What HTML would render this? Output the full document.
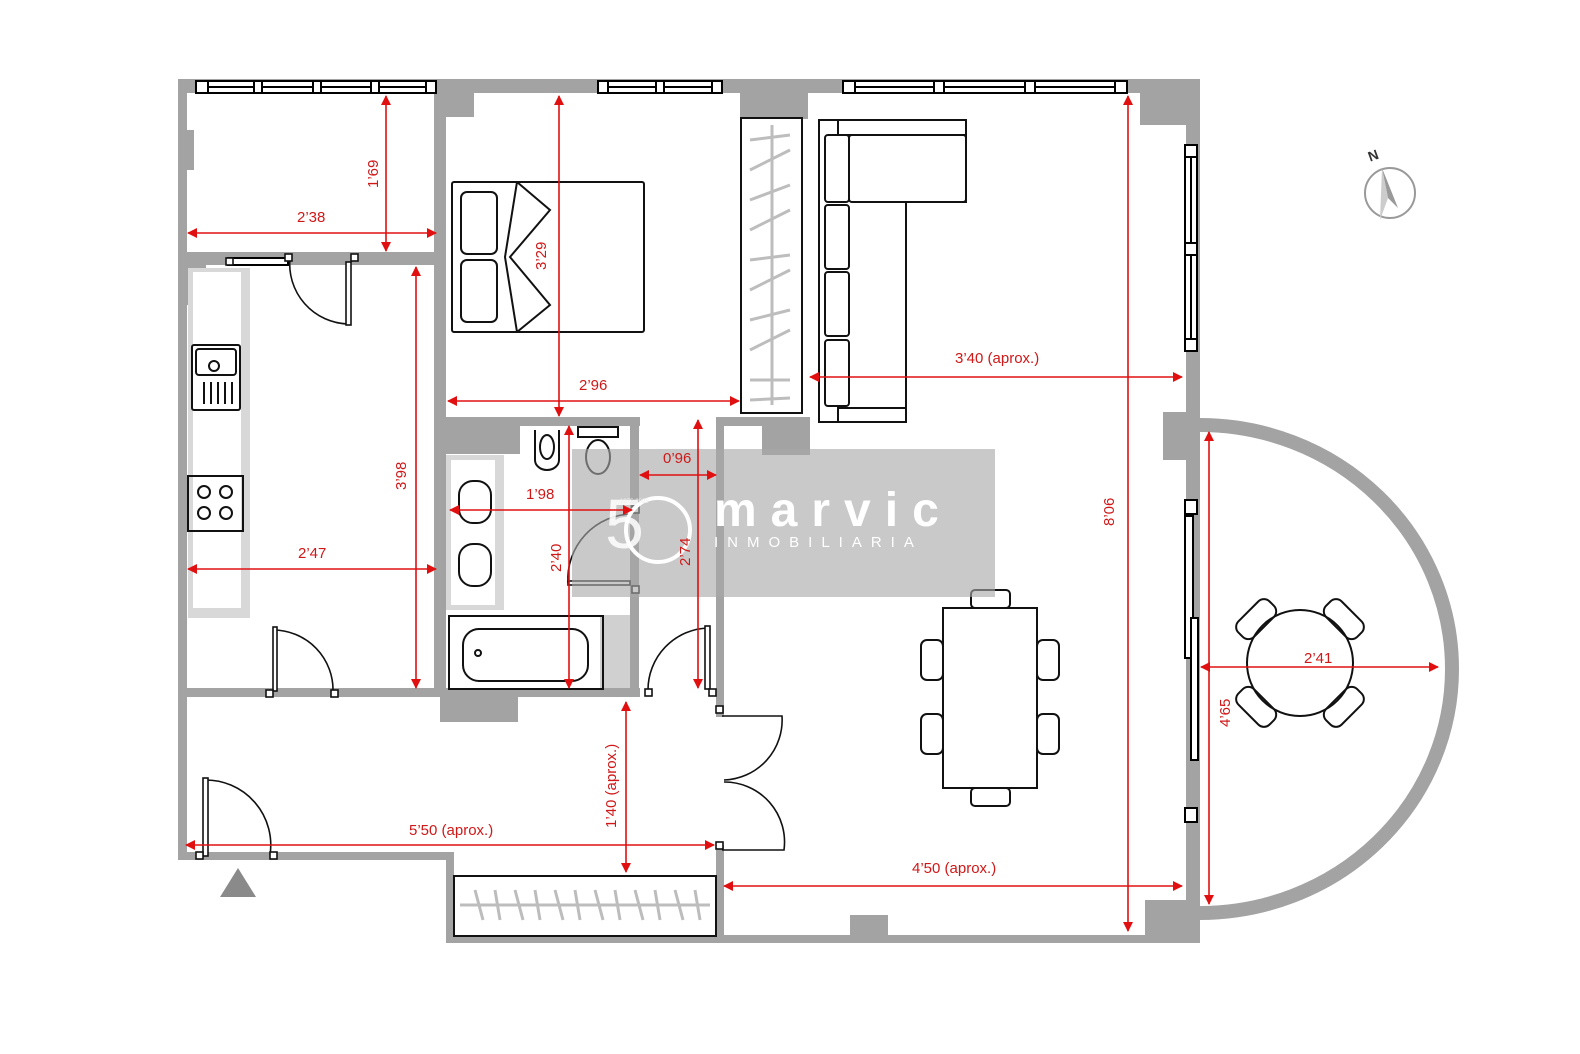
<!DOCTYPE html>
<html><head><meta charset="utf-8"><style>
html,body{margin:0;padding:0;background:#fff;}
svg{display:block;font-family:"Liberation Sans",sans-serif;}
</style></head><body>
<svg width="1580" height="1054" viewBox="0 0 1580 1054" xmlns="http://www.w3.org/2000/svg">
<defs>
<marker id="a" viewBox="0 0 10 10" refX="9" refY="5" markerWidth="10" markerHeight="10" markerUnits="userSpaceOnUse" orient="auto-start-reverse"><path d="M0,0L10,5L0,10z" fill="#e01010"/></marker>
</defs>
<rect width="1580" height="1054" fill="#fff"/>
<g fill="#a3a3a3">
<rect x="178" y="79" width="1022" height="14"/>
<rect x="178" y="79" width="9" height="781"/>
<rect x="178" y="852" width="276" height="8"/>
<rect x="446" y="852" width="8" height="90"/>
<rect x="446" y="935" width="754" height="8"/>
<rect x="1186" y="79" width="14" height="864"/>
<rect x="1140" y="93" width="60" height="32"/>
<rect x="1163" y="412" width="37" height="48"/>
<rect x="1145" y="900" width="55" height="43"/>
<rect x="186" y="130" width="8" height="40"/>
<rect x="436" y="79" width="38" height="38"/>
<rect x="178" y="252" width="262" height="13"/>
<rect x="186" y="265" width="20" height="40"/>
<rect x="434" y="79" width="12" height="618"/>
<rect x="440" y="417" width="200" height="9"/>
<rect x="440" y="426" width="80" height="28"/>
<rect x="630" y="417" width="9" height="280"/>
<rect x="440" y="688" width="200" height="9"/>
<rect x="440" y="695" width="78" height="27"/>
<rect x="178" y="688" width="262" height="9"/>
<rect x="740" y="79" width="68" height="40"/>
<rect x="716" y="417" width="8" height="300"/>
<rect x="716" y="417" width="94" height="9"/>
<rect x="762" y="417" width="48" height="38"/>
<rect x="850" y="915" width="38" height="22"/>
<rect x="716" y="845" width="8" height="97"/>
</g>
<rect x="188" y="268" width="62" height="350" fill="#d8d8d8"/>
<rect x="193" y="272" width="48" height="336" fill="#fff"/>
<rect x="446" y="455" width="58" height="155" fill="#d8d8d8"/>
<rect x="451" y="460" width="44" height="145" fill="#fff"/>
<rect x="600" y="615" width="30" height="73" fill="#d0d0d0"/>
<path d="M1200,425 A252,244 0 0 1 1200,913" fill="none" stroke="#a3a3a3" stroke-width="14"/>
<g fill="#fff" stroke="#000" stroke-width="2">
<rect x="196" y="81" width="240" height="12"/><line x1="196" y1="87" x2="436" y2="87"/>
<rect x="598" y="81" width="124" height="12"/><line x1="598" y1="87" x2="722" y2="87"/>
<rect x="843" y="81" width="284" height="12"/><line x1="843" y1="87" x2="1127" y2="87"/>
<rect x="1185" y="145" width="12" height="206"/><line x1="1191" y1="145" x2="1191" y2="351"/>
<rect x="1185" y="500" width="12" height="14"/><rect x="1185" y="808" width="12" height="14"/>
<rect x="1185" y="516" width="8" height="142"/><rect x="1191" y="618" width="7" height="142"/>
<rect x="228" y="258" width="60" height="7"/>
</g>
<g fill="#fff" stroke="#000" stroke-width="2">
<rect x="196" y="81" width="12" height="12"/><rect x="254" y="81" width="8" height="12"/><rect x="313" y="81" width="8" height="12"/><rect x="371" y="81" width="8" height="12"/><rect x="426" y="81" width="10" height="12"/>
<rect x="598" y="81" width="10" height="12"/><rect x="656" y="81" width="8" height="12"/><rect x="712" y="81" width="10" height="12"/>
<rect x="843" y="81" width="12" height="12"/><rect x="934" y="81" width="10" height="12"/><rect x="1025" y="81" width="10" height="12"/><rect x="1115" y="81" width="12" height="12"/>
<rect x="1185" y="145" width="12" height="12"/><rect x="1185" y="243" width="12" height="12"/><rect x="1185" y="339" width="12" height="12"/>
</g>
<g fill="none" stroke="#111" stroke-width="2">
<rect x="452" y="182" width="192" height="150" rx="2"/>
<rect x="461" y="192" width="36" height="62" rx="6"/><rect x="461" y="260" width="36" height="62" rx="6"/>
<path d="M517,182 L550,210 L510,257 L550,305 L517,332 M517,182 L505,257 L517,332"/>
<rect x="741" y="118" width="61" height="295"/>
<path d="M819,120 H966 V202 H906 V422 H819 Z"/>
<path d="M838,120 V135 H966 M838,422 V408 H906"/>
<rect x="825" y="135" width="24" height="67" rx="3"/><rect x="849" y="135" width="117" height="67" rx="3"/>
<rect x="825" y="205" width="24" height="64" rx="3"/><rect x="825" y="272" width="24" height="64" rx="3"/><rect x="825" y="340" width="24" height="66" rx="3"/>
<rect x="192" y="345" width="48" height="65" rx="2"/><rect x="196" y="349" width="40" height="26" rx="3"/><circle cx="214" cy="366" r="5"/>
<path d="M204,382v22M211,382v22M218,382v22M225,382v22M232,382v22"/>
<rect x="188" y="476" width="55" height="55"/><circle cx="204" cy="492" r="6"/><circle cx="226" cy="492" r="6"/><circle cx="204" cy="513" r="6"/><circle cx="226" cy="513" r="6"/>
<rect x="449" y="616" width="154" height="73"/><rect x="463" y="629" width="125" height="52" rx="16"/><circle cx="478" cy="653" r="3"/>
<rect x="459" y="481" width="32" height="42" rx="14"/><rect x="459" y="544" width="32" height="42" rx="14"/>
<path d="M535,430 v30 a12,10 0 0 0 24,0 v-30"/><ellipse cx="547" cy="447" rx="7" ry="12"/>
<rect x="578" y="427" width="40" height="10"/><ellipse cx="598" cy="457" rx="12" ry="17"/>
<rect x="454" y="876" width="262" height="60"/>
<rect x="943" y="608" width="94" height="180"/>
<rect x="971" y="590" width="39" height="18" rx="4"/><rect x="971" y="788" width="39" height="18" rx="4"/>
<rect x="921" y="640" width="22" height="40" rx="6"/><rect x="921" y="714" width="22" height="40" rx="6"/>
<rect x="1037" y="640" width="22" height="40" rx="6"/><rect x="1037" y="714" width="22" height="40" rx="6"/>
<circle cx="1300" cy="663" r="53"/>
<g transform="translate(1300,663)">
<rect x="-22" y="-73" width="44" height="22" rx="8" transform="rotate(-45)"/><rect x="-22" y="-73" width="44" height="22" rx="8" transform="rotate(45)"/>
<rect x="-22" y="-73" width="44" height="22" rx="8" transform="rotate(135)"/><rect x="-22" y="-73" width="44" height="22" rx="8" transform="rotate(-135)"/>
</g>
</g>
<g stroke="#bdbdbd" stroke-width="3"><line x1="772" y1="125" x2="772" y2="405"/>
<path d="M750,140l40,-5M750,170l40,-20M750,200l40,-15M750,230l40,-20M750,260l40,-5M750,290l40,-20M750,320l40,-10M750,350l40,-20M750,380l40,0M750,400l40,-2"/>
<line x1="460" y1="905" x2="710" y2="905"/>
<path d="M475,890l8,30M495,890l5,30M515,890l8,30M535,890l5,30M555,890l8,30M575,890l5,30M595,890l8,30M615,890l5,30M635,890l8,30M655,890l5,30M675,890l8,30M695,890l5,30"/></g>
<g fill="none" stroke="#111" stroke-width="1.6">
<path d="M290,258 A60,60 0 0 0 348,324"/><rect x="346" y="262" width="5" height="63" fill="#fff"/>
<path d="M273,630 A60,60 0 0 1 333,692"/><rect x="273" y="627" width="4" height="64" fill="#fff"/>
<path d="M205,780 A65,65 0 0 1 270,855"/><rect x="203" y="778" width="5" height="78" fill="#fff"/>
<path d="M632,514 A65,65 0 0 0 568,583"/><rect x="568" y="581" width="62" height="4" fill="#fff"/>
<path d="M708,628 A62,62 0 0 0 648,690"/><rect x="705" y="626" width="5" height="63" fill="#fff"/>
<path d="M722,716 L782,716 A60,60 0 0 1 724,780 M724,782 A60,60 0 0 1 784,850 L722,850"/>
<g fill="#fff"><rect x="226" y="258" width="7" height="7"/><rect x="285" y="254" width="7" height="7"/><rect x="351" y="254" width="7" height="7"/><rect x="266" y="690" width="7" height="7"/><rect x="331" y="690" width="7" height="7"/><rect x="196" y="852" width="7" height="7"/><rect x="270" y="852" width="7" height="7"/><rect x="632" y="506" width="7" height="7"/><rect x="632" y="586" width="7" height="7"/><rect x="645" y="689" width="7" height="7"/><rect x="709" y="689" width="7" height="7"/><rect x="716" y="706" width="7" height="7"/><rect x="716" y="842" width="7" height="7"/></g>
</g>
<rect x="572" y="449" width="423" height="148" fill="#a8a8a8" fill-opacity="0.62"/>
<text x="605" y="548" font-size="70" fill="#fff" fill-opacity="0.85" font-weight="300">5</text>
<circle cx="658" cy="530" r="32" fill="none" stroke="#fff" stroke-width="4"/>
<text x="620" y="503" font-size="6" fill="#eee">1975-2025</text>
<text x="714" y="526" font-size="48" font-weight="bold" fill="#fff" letter-spacing="14">marvic</text>
<text x="714" y="547" font-size="15" fill="#fff" letter-spacing="9">INMOBILIARIA</text>
<g stroke="#e01010" stroke-width="1.6" marker-start="url(#a)" marker-end="url(#a)">
<line x1="188" y1="233" x2="436" y2="233"/>
<line x1="386" y1="96" x2="386" y2="251"/>
<line x1="448" y1="401" x2="739" y2="401"/>
<line x1="559" y1="96" x2="559" y2="416"/>
<line x1="416" y1="267" x2="416" y2="688"/>
<line x1="188" y1="569" x2="436" y2="569"/>
<line x1="450" y1="510" x2="632" y2="510"/>
<line x1="569" y1="426" x2="569" y2="688"/>
<line x1="640" y1="475" x2="716" y2="475"/>
<line x1="698" y1="420" x2="698" y2="688"/>
<line x1="626" y1="702" x2="626" y2="872"/>
<line x1="186" y1="845" x2="714" y2="845"/>
<line x1="810" y1="377" x2="1182" y2="377"/>
<line x1="1128" y1="96" x2="1128" y2="931"/>
<line x1="724" y1="886" x2="1182" y2="886"/>
<line x1="1209" y1="432" x2="1209" y2="904"/>
<line x1="1201" y1="667" x2="1438" y2="667"/>
</g>
<g fill="#d01818" font-size="15">
<text x="297" y="222">2’38</text>
<text x="579" y="390">2’96</text>
<text x="298" y="558">2’47</text>
<text x="526" y="499">1’98</text>
<text x="663" y="463">0’96</text>
<text x="409" y="835">5’50 (aprox.)</text>
<text x="955" y="363">3’40 (aprox.)</text>
<text x="912" y="873">4’50 (aprox.)</text>
<text x="1304" y="663">2’41</text>
<text transform="translate(378,188) rotate(-90)">1’69</text>
<text transform="translate(546,270) rotate(-90)">3’29</text>
<text transform="translate(406,490) rotate(-90)">3’98</text>
<text transform="translate(561,572) rotate(-90)">2’40</text>
<text transform="translate(690,566) rotate(-90)">2’74</text>
<text transform="translate(616,828) rotate(-90)">1’40 (aprox.)</text>
<text transform="translate(1114,526) rotate(-90)">8’06</text>
<text transform="translate(1230,727) rotate(-90)">4’65</text>
</g>
<path d="M238,868 L256,897 L220,897z" fill="#8a8a8a"/>
<circle cx="1390" cy="193" r="25" fill="none" stroke="#999" stroke-width="2"/>
<path d="M1382,168 L1398,208 L1388,198z" fill="#999"/><path d="M1382,168 L1380,220 L1388,198z" fill="#ccc"/>
<text x="1368" y="160" font-size="14" font-weight="bold" fill="#333" transform="rotate(-20 1374 155)">N</text>
</svg>
</body></html>
